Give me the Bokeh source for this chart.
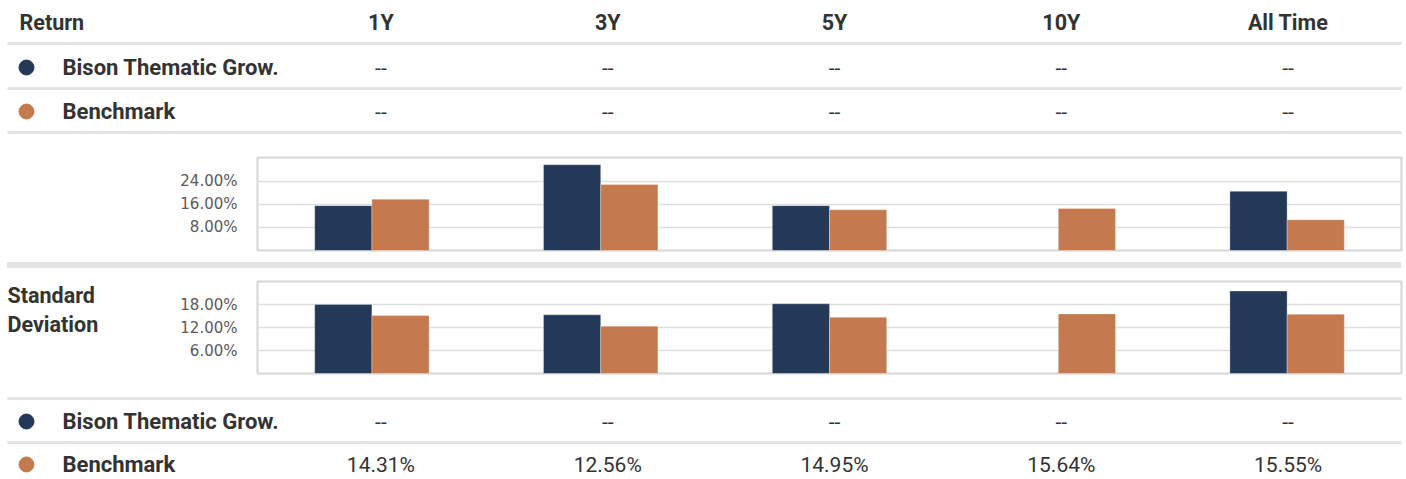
from bokeh.plotting import figure
from bokeh.layouts import column, row
from bokeh.models import Range1d, FactorRange, FixedTicker, PrintfTickFormatter, ColumnDataSource, Div
from bokeh.transform import dodge
from bokeh.core.properties import value
from bokeh.embed import file_html
from bokeh.resources import INLINE

nan = float("nan")

# ---------------- data ----------------
categories = ["1Y", "3Y", "5Y", "10Y", "All Time"]
series_names = ["Bison Thematic Grow.", "Benchmark"]
series_colors = ["#243858", "#c47a4e"]

return_fund = [15.55, 29.7, 15.55, nan, 20.5]
return_bench = [17.74, 22.84, 14.15, 14.6, 10.67]
return_ticks = [8, 16, 24]
return_ymax = 32.24

std_fund = [18.15, 15.4, 18.3, nan, 21.65]
std_bench = [15.2, 12.42, 14.77, 15.65, 15.55]
std_ticks = [6, 12, 18]
std_ymax = 24.16

return_table_fund = ["--", "--", "--", "--", "--"]
return_table_bench = ["--", "--", "--", "--", "--"]
std_table_fund = ["--", "--", "--", "--", "--"]
std_table_bench = ["14.31%", "12.56%", "14.95%", "15.64%", "15.55%"]

# ---------------- layout constants ----------------
W = 1404
LINE_X0, LINE_X1 = 7, 1401
FRAME_L = 257
FRAME_R_BORDER = W - 1401
COL0 = 267
COLW = (1401 - COL0) / 5.0
col_x = [COL0 + (i + 0.5) * COLW for i in range(5)]
TEXT = "#333333"
LINE = "#e3e3e3"
FONT = value("Roboto")


def blank_fig(width, height):
    p = figure(width=width, height=height, x_range=Range1d(0, width), y_range=Range1d(height, 0),
               min_border=0, x_axis_location=None, y_axis_location=None,
               toolbar_location=None, output_backend="svg", outline_line_color=None,
               frame_align=False)
    p.grid.visible = False
    return p


def hline(p, y, width=3):
    p.segment(x0=[LINE_X0], y0=[y], x1=[LINE_X1], y1=[y], line_color=LINE, line_width=width)


def series_row(p, y, name, color, values):
    p.scatter(x=[26], y=[y], size=15, color=color)
    p.text(x=[62], y=[y], text=[name], text_font=FONT, text_font_size="22px",
           text_font_style="bold", text_color=TEXT, text_align="left", text_baseline="middle")
    p.text(x=col_x, y=[y] * 5, text=values, text_font=FONT, text_font_size="21px",
           text_color=TEXT, text_align="center", text_baseline="middle")


# ---- top table ----
top = blank_fig(W, 150)
top.text(x=[19], y=[22], text=["Return"], text_font=FONT, text_font_size="21.5px",
         text_font_style="bold", text_color=TEXT, text_align="left", text_baseline="middle")
top.text(x=col_x, y=[22] * 5, text=categories, text_font=FONT, text_font_size="21.5px",
         text_font_style="bold", text_color=TEXT, text_align="center", text_baseline="middle")
hline(top, 43)
series_row(top, 67, series_names[0], series_colors[0], return_table_fund)
hline(top, 88)
series_row(top, 111, series_names[1], series_colors[1], return_table_bench)
hline(top, 132)


def chart_fig(width, border_left, height, btop, bbottom, ymax, ticks, fund, bench):
    p = figure(width=width, height=height,
               x_range=FactorRange(factors=categories, range_padding=0),
               y_range=Range1d(0, ymax), x_axis_location=None,
               toolbar_location=None, output_backend="svg",
               min_border_left=border_left, min_border_right=FRAME_R_BORDER,
               min_border_top=btop, min_border_bottom=bbottom,
               outline_line_color="#d6d6d6", outline_line_width=2,
               frame_align=False)
    src = ColumnDataSource(dict(cat=categories, fund=fund, bench=bench))
    p.vbar(x=dodge("cat", -0.125, range=p.x_range), top="fund", width=0.25, source=src,
           fill_color=series_colors[0], line_color="white", line_alpha=0.3)
    p.vbar(x=dodge("cat", 0.125, range=p.x_range), top="bench", width=0.25, source=src,
           fill_color=series_colors[1], line_color="white", line_alpha=0.3)
    ax = p.yaxis[0]
    ax.ticker = FixedTicker(ticks=ticks)
    ax.formatter = PrintfTickFormatter(format="%.2f%%")
    ax.axis_line_color = None
    ax.major_tick_line_color = None
    ax.minor_tick_line_color = None
    ax.major_label_text_font = "DejaVu Sans"
    ax.major_label_text_font_size = "15px"
    ax.major_label_text_color = "#5a5a5a"
    ax.major_label_standoff = 14
    p.xgrid.visible = False
    p.ygrid.grid_line_color = "#dedede"
    p.ygrid.grid_line_width = 1.5
    return p


chart1 = chart_fig(W, FRAME_L, 112, 7, 12, return_ymax, return_ticks, return_fund, return_bench)

# thick grey separator band between the two charts
sep = Div(text="", width=LINE_X1 - LINE_X0, height=6, margin=(0, 0, 0, LINE_X0),
          styles={"background-color": "#e4e4e4"})

LBL_W = 170
lbl = blank_fig(LBL_W, 117)
lbl.text(x=[7, 7], y=[27, 56], text=["Standard", "Deviation"], text_font=FONT,
         text_font_size="21.5px", text_font_style="bold", text_color=TEXT,
         text_align="left", text_baseline="middle")
chart2 = chart_fig(W - LBL_W, FRAME_L - LBL_W, 117, 13, 12, std_ymax, std_ticks, std_fund, std_bench)

bottom = blank_fig(W, 92)
hline(bottom, 13)
series_row(bottom, 36, series_names[0], series_colors[0], std_table_fund)
hline(bottom, 57)
series_row(bottom, 79, series_names[1], series_colors[1], std_table_bench)

layout = column(top, chart1, sep, row(lbl, chart2), bottom)

open("out.html", "w").write(file_html(layout, INLINE))
